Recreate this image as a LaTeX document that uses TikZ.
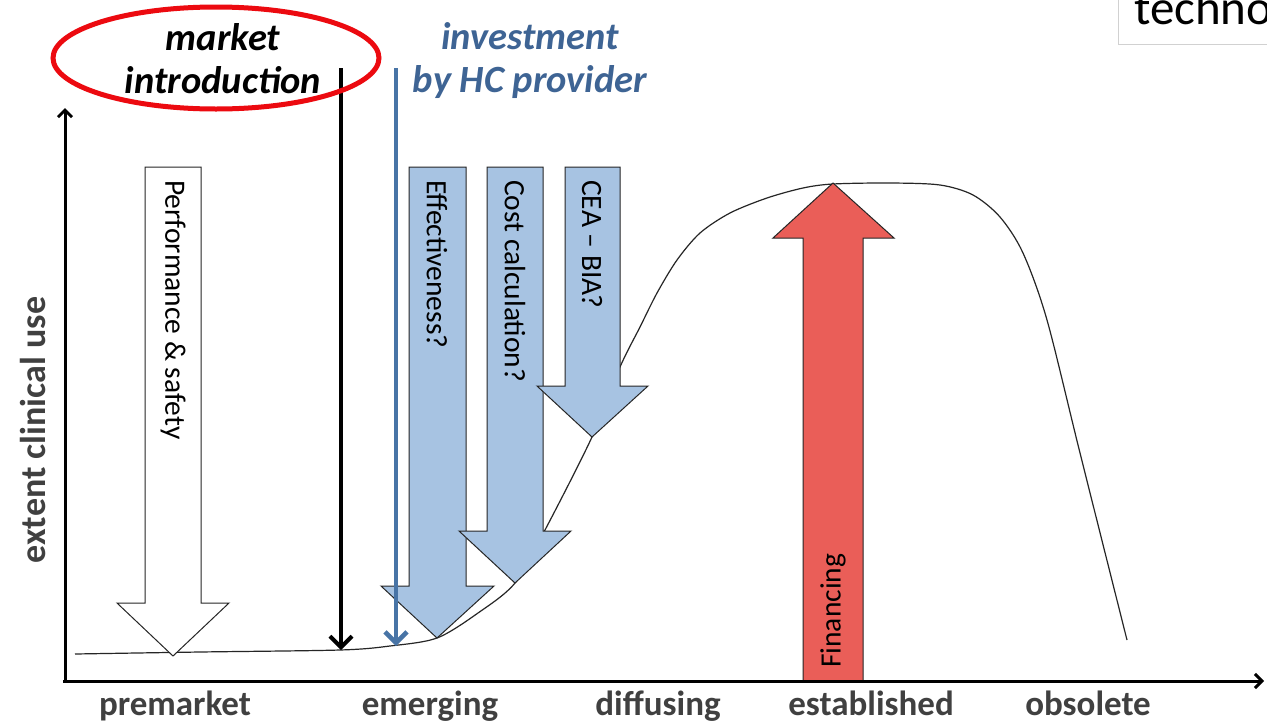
\documentclass[tikz,border=0pt]{standalone}
\usepackage{fontspec}
\setmainfont{Carlito}
\usetikzlibrary{arrows.meta,shapes.geometric}
\definecolor{boxblue}{RGB}{167,195,226}
\definecolor{finred}{RGB}{234,94,88}
\definecolor{hcblue}{RGB}{62,100,148}
\definecolor{linkblue}{RGB}{72,116,166}
\definecolor{labelgray}{RGB}{64,64,64}
\definecolor{ringred}{RGB}{236,10,16}
\tikzset{
  blockarrow/.style={draw=black!85, line width=1pt, line join=miter},
  arrowtext/.style={font=\fontsize{29.5}{31}\selectfont, inner sep=0pt},
  stage/.style={font=\bfseries\fontsize{35}{40}\selectfont, text=labelgray, inner sep=0pt},
  headtext/.style={font=\bfseries\itshape\fontsize{38.5}{43}\selectfont, inner sep=0pt},
  axisline/.style={line width=3pt, -{Straight Barb[length=7pt,width=14pt]}},
  markerline/.style={-{Straight Barb[length=11pt,width=22pt]}},
}
\begin{document}
\begin{tikzpicture}[x=1pt,y=-1pt]
\useasboundingbox (0,0) rectangle (1267,726);
\clip (0,0) rectangle (1267,726);
\fill[white] (0,0) rectangle (1267,726);

% partial box top right
\draw[black!18, line width=1pt] (1118,-20) rectangle (1320,44);
\node[anchor=base west, font=\fontsize{49}{50}\selectfont, inner sep=0pt] (techno) at (1134,24) {techno};

% adoption curve
\draw[line width=1.2pt, black!85] plot[smooth, tension=0.5] coordinates {
 (75,654) (200,652) (340,650) (390,646) (437,638) (478,613) (515,583) (545,530)
 (592,437) (620,367) (640,327) (657,293) (677,260) (700,233) (730,213) (767,198)
 (803,188) (833,184) (890,183) (940,185) (973,195) (1000,217) (1023,253)
 (1047,320) (1080,453) (1127,640)};

% block arrows
\filldraw[blockarrow, fill=white] (145,167) -- (201,167) -- (201,603) -- (229,603) -- (173,656) -- (117,603) -- (145,603) -- cycle;
\node[arrowtext, rotate=-90, anchor=west] (perf) at (173,180) {Performance \& safety};

\filldraw[blockarrow, fill=boxblue] (409,167) -- (466,167) -- (466,586) -- (494,586) -- (437,638) -- (381,586) -- (409,586) -- cycle;
\node[arrowtext, rotate=-90, anchor=west] (eff) at (437,180) {Effectiveness?};

\filldraw[blockarrow, fill=boxblue] (487,167) -- (543,167) -- (543,531) -- (571,531) -- (515,583) -- (459,531) -- (487,531) -- cycle;
\node[arrowtext, rotate=-90, anchor=west] (cost) at (515,180) {Cost calculation?};

\filldraw[blockarrow, fill=boxblue] (565,167) -- (620,167) -- (620,386) -- (648,386) -- (592,437) -- (537,386) -- (565,386) -- cycle;
\node[arrowtext, rotate=-90, anchor=west] (cea) at (592,180) {CEA – BIA?};

\filldraw[blockarrow, fill=finred] (803,681) -- (863,681) -- (863,238) -- (894,238) -- (833,183) -- (773,238) -- (803,238) -- cycle;
\node[arrowtext, rotate=90, anchor=west] (fin) at (833,668) {Financing};

% axes
\coordinate (origin) at (65,682);
\coordinate (ytip) at (65,108);
\coordinate (xstart) at (63,681);
\coordinate (xtip) at (1264,681);
\draw[axisline] (origin) -- (ytip);
\draw[axisline] (xstart) -- (xtip);

% market introduction marker
\coordinate (mtop) at (341,68);
\coordinate (mbot) at (341,650);
\draw[markerline, line width=4pt, black] (mtop) -- (mbot);

% investment marker
\coordinate (itop) at (396,68);
\coordinate (ibot) at (396,646);
\draw[markerline, line width=4.5pt, linkblue] (itop) -- (ibot);

% headings
\node[ellipse, draw=ringred, line width=5pt, minimum width=326pt, minimum height=102pt, inner sep=0pt] (ring) at (216,58) {};
\node[headtext, anchor=base] (mkt1) at (223,50) {market};
\node[headtext, anchor=base] (mkt2) at (223,93) {introduction};
\node[headtext, anchor=base, text=hcblue] (inv1) at (530,49) {investment};
\node[headtext, anchor=base, text=hcblue] (inv2) at (530,92) {by HC provider};

% axis labels
\node[stage, rotate=90, font=\bfseries\fontsize{36}{40}\selectfont] (ylab) at (33,430) {extent clinical use};
\node[stage, anchor=base] (s1) at (175,715) {premarket};
\node[stage, anchor=base] (s2) at (430,715) {emerging};
\node[stage, anchor=base] (s3) at (658,715) {diffusing};
\node[stage, anchor=base] (s4) at (871,715) {established};
\node[stage, anchor=base] (s5) at (1088,715) {obsolete};
\end{tikzpicture}
\end{document}
